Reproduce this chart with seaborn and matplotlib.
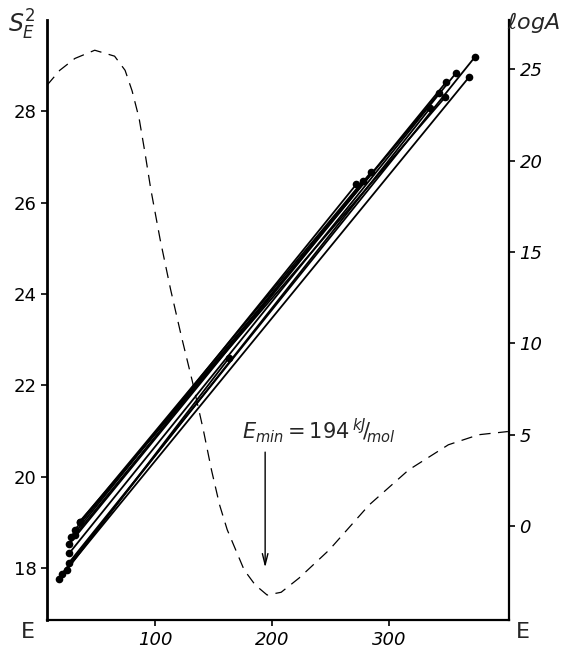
import matplotlib
matplotlib.use('Agg')
import matplotlib.pyplot as plt
import seaborn as sns
import pandas as pd

# dashed curve: S_E^2 against E (left axis)
curve_E = [7, 18, 31, 48, 65, 74, 80, 86, 91, 96, 104, 113, 122, 132, 141, 148,
           155, 161.5, 176, 185.5, 195.7, 207.7, 223, 249, 283, 317, 351, 377, 402]
curve_S = [28.57, 28.90, 29.16, 29.34, 29.21, 28.90, 28.45, 27.85, 27.10, 26.30,
           25.20, 24.10, 23.10, 22.05, 21.03, 20.15, 19.38, 18.84, 17.96, 17.63,
           17.41, 17.47, 17.78, 18.40, 19.38, 20.15, 20.70, 20.92, 20.99]

# compensation lines: log A against E (right axis), two ends of each line
line_E_lo = [17, 26, 26, 26, 31, 35, 31, 35, 28, 24, 20]
line_A_lo = [-2.9, -2.0, -1.5, -1.0, -0.2, 0.24, -0.5, 0.2, -0.6, -2.4, -2.6]
line_E_hi = [369, 374, 357.5, 349, 343, 348.5, 285, 278, 272, 163, 335.6]
line_A_hi = [24.6, 25.7, 24.8, 24.3, 23.7, 23.5, 19.4, 18.9, 18.7, 9.2, 22.9]

left_ticks = [18, 20, 22, 24, 26, 28]
right_ticks = [0, 5, 10, 15, 20, 25]
x_ticks = [100, 200, 300]
E_min = 194


def main():
    sns.set_style('ticks')
    plt.rcParams['font.family'] = ['DejaVu Sans']

    fig = plt.figure(figsize=(5.65, 6.48), dpi=100)
    ax = fig.add_axes([0.083, 0.043, 0.818, 0.926])
    ax2 = ax.twinx()

    # dashed S^2 curve
    sns.lineplot(x=curve_E, y=curve_S, ax=ax, color='black', lw=0.9,
                 sort=False, estimator=None)
    ax.lines[0].set_dashes([9, 6])

    # solid lines with end points
    rows = {'E': [], 'logA': [], 'line': []}
    for i in range(len(line_E_lo)):
        rows['E'] += [line_E_lo[i], line_E_hi[i]]
        rows['logA'] += [line_A_lo[i], line_A_hi[i]]
        rows['line'] += [i, i]
    df = pd.DataFrame(rows)
    sns.lineplot(data=df, x='E', y='logA', units='line', estimator=None,
                 color='black', lw=1.3, marker='o', markersize=5.5,
                 markeredgewidth=0, sort=False, legend=False, ax=ax2)

    ax.set_xlim(7, 403)
    ax.set_ylim(16.86, 30.0)
    ax2.set_ylim(-5.15, 27.7)

    ax.set_xticks(x_ticks)
    ax.set_yticks(left_ticks)
    ax2.set_yticks(right_ticks)
    ax.tick_params(axis='both', direction='out', length=4, width=1.2,
                   labelsize=13, colors='black')
    ax2.tick_params(axis='y', direction='out', length=4, width=1.2,
                    labelsize=13, colors='black')
    for lab in ax2.get_yticklabels() + ax.get_xticklabels():
        lab.set_style('italic')
    ax.set_xlabel('')
    ax.set_ylabel('')
    ax2.set_ylabel('')

    for a in (ax, ax2):
        a.spines['top'].set_visible(False)
    ax2.spines['left'].set_visible(False)
    ax2.spines['bottom'].set_visible(False)
    ax.spines['right'].set_visible(False)
    ax.spines['left'].set_linewidth(2.0)
    ax.spines['bottom'].set_linewidth(1.6)
    ax2.spines['right'].set_linewidth(1.6)
    for s in ('left', 'bottom'):
        ax.spines[s].set_color('black')
    ax2.spines['right'].set_color('black')

    # axis titles
    fig.text(0.015, 0.962, r'$S^{2}_{E}$', fontsize=17, ha='left', va='center')
    fig.text(0.945, 0.965, r'$\ell og A$', fontsize=16, ha='center', va='center')
    fig.text(0.05, 0.024, 'E', fontsize=16, ha='center', va='center')
    fig.text(0.925, 0.024, 'E', fontsize=16, ha='center', va='center')

    # minimum annotation
    ax.annotate('', xy=(E_min, 17.95), xytext=(E_min, 20.6),
                arrowprops=dict(arrowstyle='->,head_length=0.8,head_width=0.2',
                                color='black', lw=1.0))
    ax.text(E_min - 20, 21.0, r'$E_{min}=194\,^{kJ}\!/\!_{mol}$',
            fontsize=15, ha='left', va='center')

    plt.savefig('out.png', dpi=100)
    plt.close()


if __name__ == '__main__':
    main()
